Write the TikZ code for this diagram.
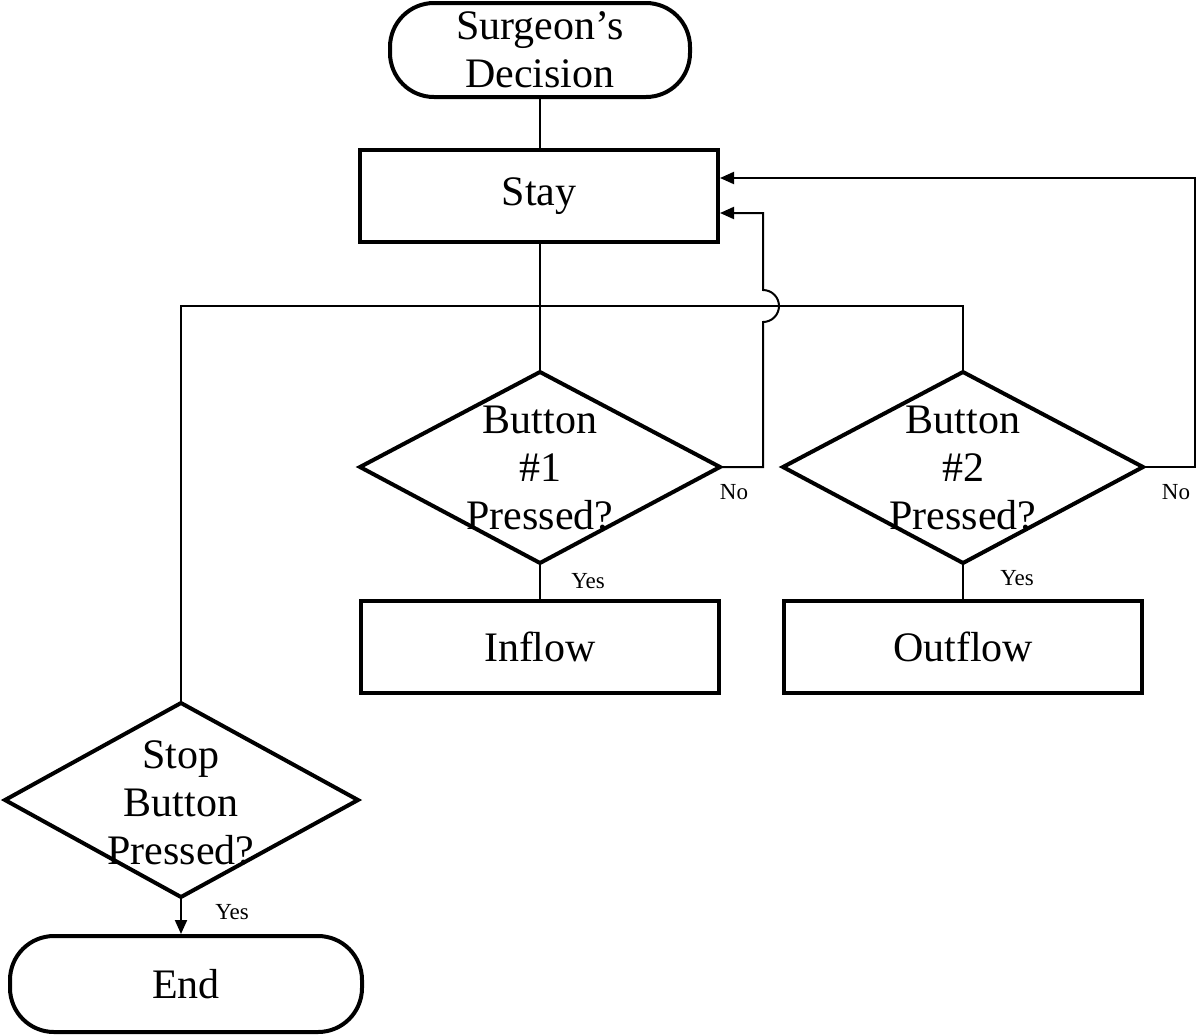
\documentclass[tikz,border=0pt]{standalone}
\usepackage{fontspec}
\setmainfont{Liberation Serif}
\usetikzlibrary{arrows.meta}
\begin{document}
\begin{tikzpicture}[x=0.5pt,y=0.5pt,
  box/.style={draw,line width=2pt,minimum width=179pt,minimum height=46pt,inner sep=0pt},
  term/.style={draw,line width=2pt,rounded corners=22pt,inner sep=0pt},
  dia/.style={draw,line width=2pt},
  big/.style={font=\fontsize{21}{24}\selectfont,align=center},
  lab/.style={font=\fontsize{11.5}{13}\selectfont,inner sep=0pt},
  con/.style={line width=1pt},
  arr/.style={line width=1pt,-{Triangle[length=7pt,width=6pt]}}]
\useasboundingbox (0,0) rectangle (1200,-1035);
% terminals
\node[term,big,minimum width=150pt,minimum height=47pt] (start) at (540,-50) {Surgeon’s\\Decision};
\node[term,big,minimum width=176pt,minimum height=48pt] (end) at (186,-984) {End};
% boxes
\node[box,big] (stay) at (539,-196) {Stay};
\node[box,big] (inflow) at (540,-647) {Inflow};
\node[box,big] (outflow) at (963,-647) {Outflow};
% diamonds
\draw[dia] (360,-467) coordinate (d1l) -- (540,-372) coordinate (d1t) -- (720,-467) coordinate (d1r) -- (540,-563) coordinate (d1b) -- cycle;
\node[big] (d1) at (540,-468) {Button\\\#1\\Pressed?};
\draw[dia] (783,-467) coordinate (d2l) -- (963,-372) coordinate (d2t) -- (1143,-467) coordinate (d2r) -- (963,-563) coordinate (d2b) -- cycle;
\node[big] (d2) at (963,-468) {Button\\\#2\\Pressed?};
\draw[dia] (5,-800) coordinate (d3l) -- (181,-703) coordinate (d3t) -- (358,-800) coordinate (d3r) -- (181,-897) coordinate (d3b) -- cycle;
\node[big] (d3) at (181,-803) {Stop\\Button\\Pressed?};
% connectors
\draw[con] (start.south) -- (start.south |- stay.north);
\draw[con] (stay.south -| d1t) -- (d1t);
\draw[con] (d1b) -- (inflow.north -| d1b);
\draw[con] (d2b) -- (outflow.north -| d2b);
\draw[con] (d3t) -- (181,-306) -- (963,-306) -- (d2t);
\coordinate (stayA) at (stay.east |- 0,-178);
\coordinate (stayB) at (stay.east |- 0,-213);
\draw[arr] (d2r) -- (1195,-467) -- (1195,-178) -- (stayA);
\draw[arr] (d1r) -- (763,-467) -- (763,-322) arc[start angle=-90,end angle=90,radius=16] -- (763,-213) -- (stayB);
\draw[arr] (d3b) -- (d3b |- end.north);
% labels
\node[lab] (no1) at (734,-492) {No};
\node[lab] (no2) at (1176,-492) {No};
\node[lab] (yes1) at (588,-581) {Yes};
\node[lab] (yes2) at (1017,-578) {Yes};
\node[lab] (yes3) at (232,-912) {Yes};
\end{tikzpicture}
\end{document}
